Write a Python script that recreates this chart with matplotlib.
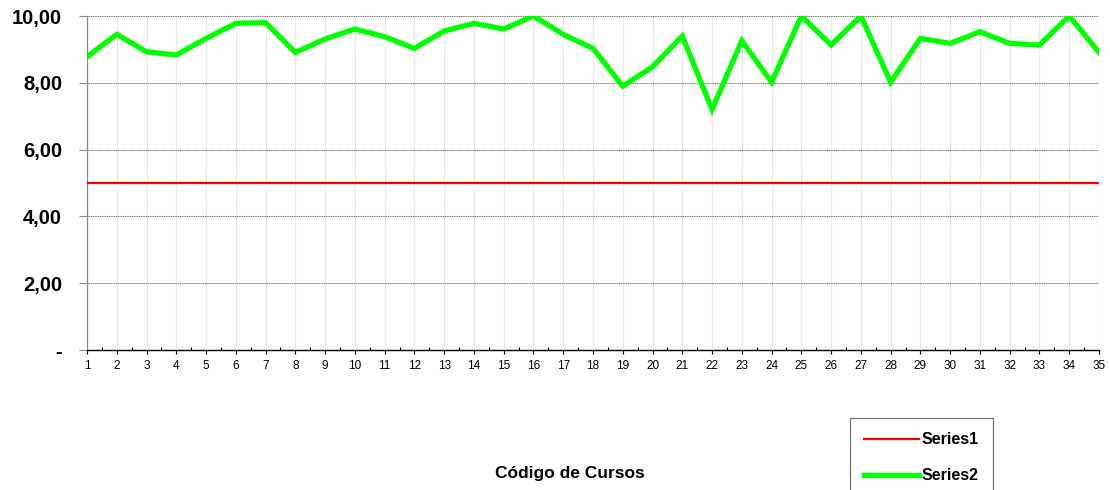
import numpy as np
import matplotlib
matplotlib.use("Agg")
import matplotlib.pyplot as plt
from matplotlib.ticker import FixedLocator

plt.rcParams['font.family'] = ['Liberation Sans', 'DejaVu Sans']

cursos = list(range(1, 36))
series1 = [5.0] * 35
series2 = [8.78, 9.45, 8.93, 8.83, 9.33, 9.78, 9.80, 8.91, 9.31, 9.61,
           9.38, 9.03, 9.55, 9.78, 9.61, 10.0, 9.45, 9.03, 7.90, 8.48,
           9.40, 7.20, 9.26, 8.02, 10.0, 9.13, 10.0, 8.02, 9.33, 9.18,
           9.53, 9.18, 9.13, 10.0, 8.91]
yticks = [0, 2, 4, 6, 8, 10]
ylabels = ["-", "2,00", "4,00", "6,00", "8,00", "10,00"]

fig = plt.figure(figsize=(11.1, 4.9), dpi=100)
ax = fig.add_axes([87/1110, 1-350/490, (1099-87)/1110, (350-16)/490])

ax.plot(cursos, series1, color="#ff0000", lw=1.6, label="Series1", zorder=3)
ax.plot(cursos, series2, color="#00ff00", lw=3.8, label="Series2", zorder=4,
        solid_joinstyle="miter")

ax.set_xlim(1, 35)
ax.set_ylim(0, 10)
ax.set_yticks(yticks)
ax.set_yticklabels(ylabels, fontsize=14.5, fontweight="bold")
ax.set_xticks(cursos)
ax.set_xticklabels([str(c) for c in cursos], fontsize=8.5)
ax.xaxis.set_minor_locator(FixedLocator([c + 0.5 for c in cursos[:-1]]))
ax.tick_params(axis="x", which="major", direction="out", length=3, width=0.8, pad=4)
ax.tick_params(axis="x", which="minor", direction="in", length=2, width=0.8)
ax.tick_params(axis="y", which="major", direction="out", length=6, width=0.8,
               color="#888888", pad=12)

for v in yticks[1:]:
    ax.axhline(v, color="#777777", lw=0.8, ls=(0, (1, 0.6)), zorder=1)
for c in cursos[1:]:
    ax.axvline(c, color="#e8e8e8", lw=0.8, zorder=0)

for s in ["top", "right"]:
    ax.spines[s].set_visible(False)
ax.spines["left"].set_color("#888888")
ax.spines["left"].set_linewidth(0.9)
ax.spines["bottom"].set_color("black")
ax.spines["bottom"].set_linewidth(1.0)

fig.text(570/1110, 1-473/490, "Código de Cursos", ha="center", va="center",
         fontsize=12.5, fontweight="bold")

leg = fig.legend(loc="upper left", bbox_to_anchor=(850/1110, 1-418/490),
                 prop={"weight": "bold", "size": 11.5}, frameon=True, fancybox=False,
                 handlelength=3.4, handletextpad=0.2, labelspacing=1.3,
                 borderpad=0.9, borderaxespad=0)
leg.get_frame().set_edgecolor("#555555")
leg.get_frame().set_linewidth(0.9)

fig.savefig("out.png", dpi=100)
